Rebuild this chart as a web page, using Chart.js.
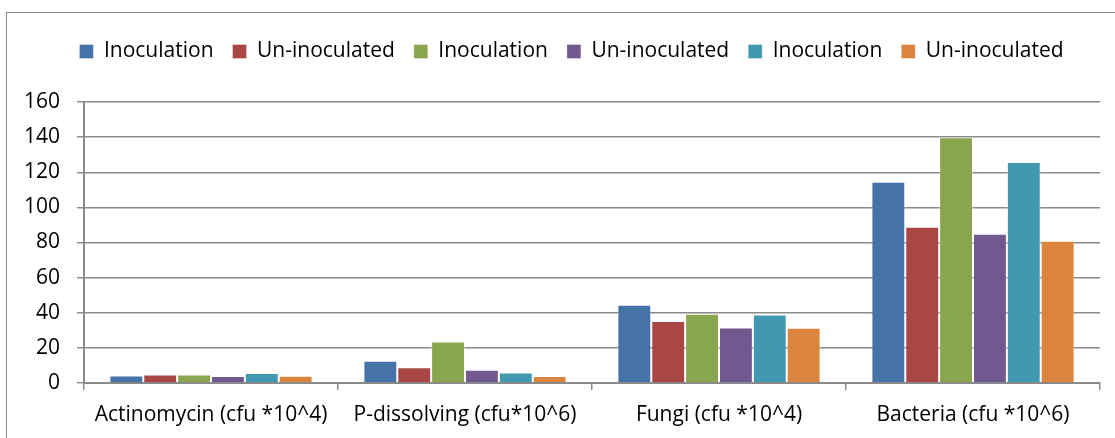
<!DOCTYPE html>
<html>
<head>
<meta charset="utf-8">
<script src="https://cdn.jsdelivr.net/npm/chart.js@4"></script>
<style>
  html, body { margin: 0; padding: 0; background: #fff; overflow: hidden; width: 1115px; height: 438px; }
  #frame { position: absolute; left: 6px; top: 12px; width: 1140px; height: 440px; border: 1px solid #8a8a8a; }
  #wrap { position: absolute; left: 0; top: 0; width: 1115px; height: 438px; }
</style>
</head>
<body>
<div id="frame"></div>
<div id="wrap"><canvas id="c"></canvas></div>
<script>
const categories = ["Actinomycin (cfu *10^4)", "P-dissolving (cfu*10^6)", "Fungi (cfu *10^4)", "Bacteria (cfu *10^6)"];
const seriesNames = ["Inoculation", "Un-inoculated", "Inoculation", "Un-inoculated", "Inoculation", "Un-inoculated"];
const series1 = [4.3, 12.6, 44.6, 114.6];
const series2 = [4.9, 9.0, 35.3, 89];
const series3 = [4.9, 23.6, 39.5, 140];
const series4 = [4.0, 7.5, 31.6, 85];
const series5 = [5.7, 6.0, 39.0, 125.8];
const series6 = [4.1, 4.0, 31.4, 81];
const yTicks = [0, 20, 40, 60, 80, 100, 120, 140, 160];

const colors = ["#4572A7", "#AA4643", "#89A54E", "#71588F", "#4198AF", "#DB843D"];
const allSeries = [series1, series2, series3, series4, series5, series6];
const FONT = "'Open Sans', sans-serif";

const legendSpace = {
  id: 'legendSpace',
  afterInit(chart) {
    const lg = chart.legend;
    if (lg) {
      const orig = lg.fit;
      lg.fit = function () { orig.call(this); this.height += 30; };
    }
  },
  afterLayout(chart) {
    const lg = chart.legend;
    if (lg) { lg.left += 18; lg.right += 18; }
  }
};

new Chart(document.getElementById('c'), {
  type: 'bar',
  plugins: [legendSpace],
  data: {
    labels: categories,
    datasets: allSeries.map((d, i) => ({
      label: seriesNames[i],
      data: d,
      backgroundColor: colors[i],
      borderColor: 'rgba(255,255,255,0.35)',
      borderWidth: 1,
      categoryPercentage: 0.8,
      barPercentage: 1.0
    }))
  },
  options: {
    responsive: true,
    maintainAspectRatio: false,
    animation: false,
    devicePixelRatio: 1,
    layout: { padding: { left: 7, right: 15, top: 22, bottom: 0 } },
    plugins: {
      tooltip: { enabled: false },
      legend: {
        position: 'top',
        labels: {
          boxWidth: 14, boxHeight: 14,
          padding: 19,
          color: '#000',
          font: { family: FONT, size: 21 }
        }
      }
    },
    scales: {
      x: {
        grid: { drawOnChartArea: false, drawTicks: true, tickLength: 7, color: '#8a8a8a', lineWidth: 1.5 },
        border: { color: '#8a8a8a', width: 2 },
        ticks: { color: '#000', font: { family: FONT, size: 21 }, padding: 12, maxRotation: 0 },
        afterFit: s => { s.height = 55; }
      },
      y: {
        min: 0, max: 160,
        afterBuildTicks: s => { s.ticks = yTicks.map(v => ({ value: v })); },
        grid: { color: '#8a8a8a', lineWidth: 1.4, tickLength: 7 },
        border: { color: '#8a8a8a', width: 2 },
        ticks: { color: '#000', font: { family: FONT, size: 21 }, padding: 17 },
        afterFit: s => { s.width = 77; }
      }
    }
  }
});
</script>
</body>
</html>
